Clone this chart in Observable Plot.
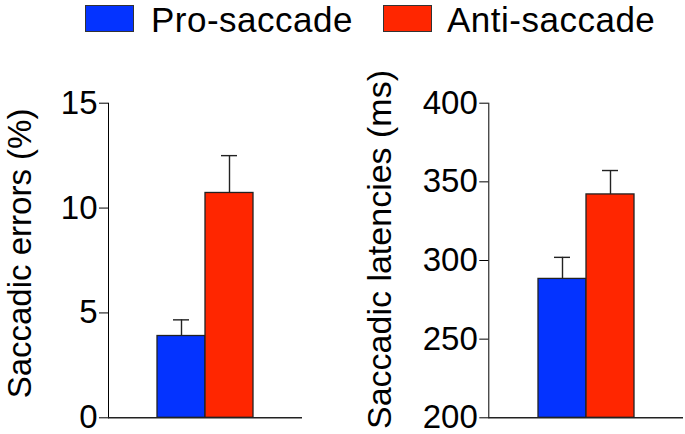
<!DOCTYPE html>
<html>
<head>
<meta charset="utf-8">
<script src="https://cdn.jsdelivr.net/npm/d3@7"></script>
<script src="https://cdn.jsdelivr.net/npm/@observablehq/plot@0.6"></script>
<style>
  html, body { margin: 0; padding: 0; background: #fff; }
  #wrap { width: 685px; height: 434px; position: relative; overflow: hidden; font-family: "Liberation Sans", Arial, sans-serif; }
  #legend { position: relative; height: 40px; }
  .sw { position: absolute; top: 5px; width: 47px; height: 25px; border: 1px solid #333; }
  .lt { position: absolute; display: block; top: 0px; font-size: 35px; line-height: 40px; letter-spacing: 0.5px; color: #000; white-space: nowrap; }
  #charts { display: flex; }
</style>
</head>
<body>
<div id="wrap">
  <div id="legend"></div>
  <div id="charts"></div>
</div>
<script>
const groups = ["Pro-saccade", "Anti-saccade"];
const colors = ["#0433ff", "#ff2600"];
const errorMeans = [3.9, 10.72];
const errorSems = [0.77, 1.78];
const latencyMeans = [288.3, 342];
const latencySems = [13.7, 15.2];
const errorTicks = [0, 5, 10, 15];
const latencyTicks = [200, 250, 300, 350, 400];

// legend
const legend = document.getElementById("legend");
const swatchX = [85, 383];
const textX = [151, 447];
groups.forEach((g, i) => {
  const s = document.createElement("div");
  s.className = "sw";
  s.style.left = swatchX[i] + "px";
  s.style.background = colors[i];
  legend.appendChild(s);
  const t = document.createElement("span");
  t.className = "lt";
  t.style.left = textX[i] + "px";
  t.textContent = g;
  legend.appendChild(t);
});

function panel(means, sems, domain, ticks, label, opts) {
  const data = groups.map((g, i) => ({group: g, mean: means[i], top: means[i] + sems[i]}));
  return Plot.plot({
    width: opts.width,
    height: 394,
    marginLeft: opts.marginLeft,
    marginRight: opts.marginRight,
    marginTop: 62.7,
    marginBottom: 16.7,
    style: {fontFamily: "'Liberation Sans', Arial, sans-serif", fontSize: "33px", color: "#000", background: "transparent", overflow: "visible"},
    x: {domain: groups, paddingInner: 0, paddingOuter: 1, axis: null},
    y: {domain, ticks, tickSize: 9, tickPadding: 2, label: null, line: true},
    color: {domain: groups, range: colors},
    marks: [
      Plot.ruleX(data, {x: "group", y1: "mean", y2: "top", stroke: "#222", strokeWidth: 1.4}),
      Plot.barY(data, {x: "group", y1: domain[0], y2: "mean", fill: "group", stroke: "#222", strokeWidth: 1.3}),
      Plot.tickY(data, {x: "group", y: "top", insetLeft: 16, insetRight: 16, stroke: "#222", strokeWidth: 1.4}),
      Plot.ruleY([domain[0]], {stroke: "#222", strokeWidth: 1.4}),
      Plot.text([label], {frameAnchor: "left", text: d => d, rotate: -90, textAnchor: "middle", lineAnchor: "bottom",
        dx: opts.labelDx, dy: opts.labelDy, fontSize: opts.labelSize, fill: "#000"})
    ]
  });
}

const charts = document.getElementById("charts");
charts.appendChild(panel(errorMeans, errorSems, [0, 15], errorTicks, "Saccadic errors (%)",
  {width: 343, marginLeft: 108, marginRight: 41, labelDx: -77.5, labelDy: -7, labelSize: 33}));
charts.appendChild(panel(latencyMeans, latencySems, [200, 400], latencyTicks, "Saccadic latencies (ms)",
  {width: 342, marginLeft: 145.3, marginRight: 2, labelDx: -97.5, labelDy: -11, labelSize: 34}));
</script>
</body>
</html>
